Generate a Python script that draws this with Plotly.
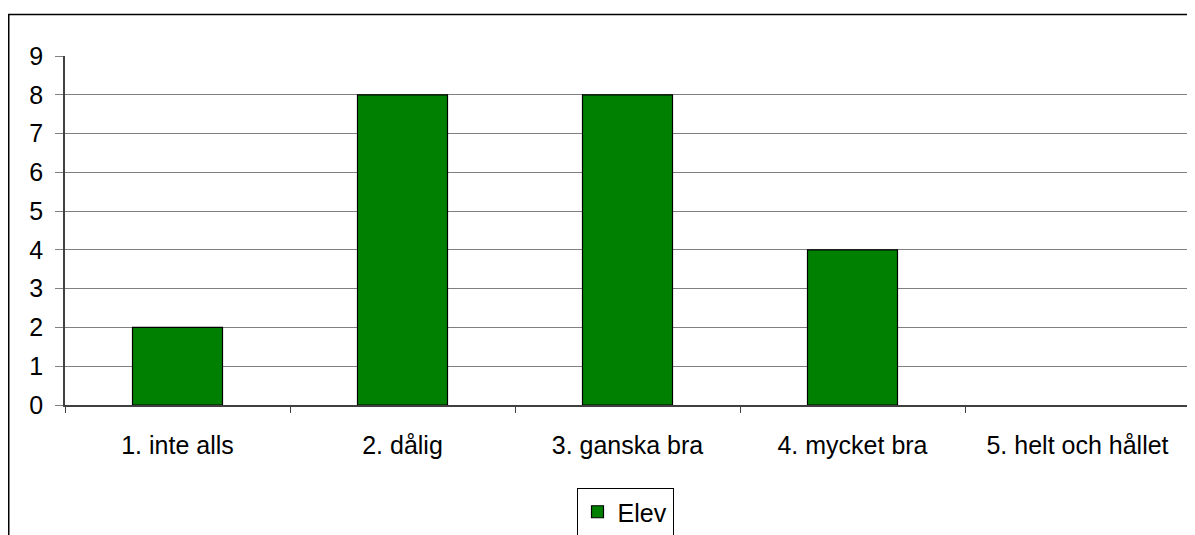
import plotly.graph_objects as go

categories = ["1. inte alls", "2. dålig", "3. ganska bra", "4. mycket bra", "5. helt och hållet"]
elev = [2, 8, 8, 4, 0]
series_name = "Elev"

# page body has an 8px margin; figure is sized/offset to compensate
OFF = 8
W, H = 1195 - OFF, 535 - OFF
L, R, T, B = 65 - OFF, 5, 56 - OFF, 130
pw = W - L - R
ph = H - T - B

def px_x(x):
    return (x - OFF - L) / pw

def px_y(y):
    return (H - B - (y - OFF)) / ph

fig = go.Figure()
fig.add_trace(go.Bar(
    x=categories, y=elev, name=series_name,
    marker=dict(color="#008000",
                line=dict(color="#000000", width=[1.2 if v > 0 else 0 for v in elev])),
    width=0.4,
    showlegend=True,
))

font = dict(family="Arial, Liberation Sans, sans-serif", size=25, color="#000000")

fig.update_layout(
    width=W, height=H,
    margin=dict(l=L, r=R, t=T, b=B, pad=0, autoexpand=False),
    paper_bgcolor="white", plot_bgcolor="white",
    font=font,
    showlegend=True,
    legend=dict(
        orientation="h", x=px_x(625), xanchor="center",
        yref="container", y=1 - (488 - OFF) / H, yanchor="top",
        bordercolor="#000000", borderwidth=1, bgcolor="white",
        font=dict(family="Arial, Liberation Sans, sans-serif", size=25, color="#000000"),
    ),
    xaxis=dict(
        showgrid=False, showline=True, linecolor="#404040", linewidth=1.5,
        ticks="outside", tickson="boundaries", ticklen=6, tickcolor="#404040",
        ticklabelstandoff=17,
        tickfont=font, fixedrange=True, automargin=False,
    ),
    yaxis=dict(
        range=[0, 9], dtick=1, tick0=0,
        showgrid=True, gridcolor="#808080", gridwidth=1.2,
        showline=True, linecolor="#404040", linewidth=1.5,
        ticks="outside", ticklen=8, tickcolor="#808080",
        ticklabelstandoff=7,
        tickfont=font, zeroline=False, fixedrange=True, automargin=False,
    ),
    shapes=[
        dict(type="line", xref="paper", yref="paper", x0=1, x1=1, y0=0, y1=1,
             line=dict(color="#808080", width=1.5)),
        dict(type="rect", xref="paper", yref="paper",
             x0=px_x(OFF + 0.75), x1=px_x(1205), y0=px_y(14.5), y1=px_y(545),
             line=dict(color="#000000", width=1.5), fillcolor="rgba(0,0,0,0)", layer="below"),
    ],
)

fig.write_html("out.html")
